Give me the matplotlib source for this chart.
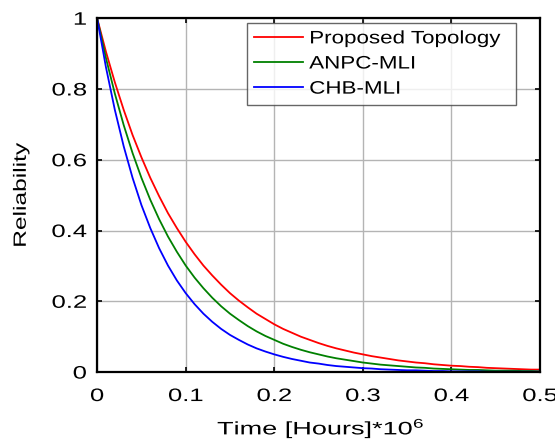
import matplotlib
matplotlib.use("Agg")
import matplotlib.pyplot as plt
import matplotlib.patheffects as pe
from matplotlib.transforms import Affine2D

plt.rcParams['font.family'] = ['Liberation Sans', 'DejaVu Sans']
plt.rcParams['mathtext.fontset'] = 'custom'
plt.rcParams['mathtext.rm'] = 'Liberation Sans'
plt.rcParams['mathtext.it'] = 'Liberation Sans'

time = [i / 100 for i in range(51)]
proposed = [1.000, 0.905, 0.819, 0.741, 0.670, 0.607, 0.549, 0.497, 0.449, 0.407,
            0.368, 0.333, 0.301, 0.273, 0.247, 0.223, 0.202, 0.183, 0.165, 0.150,
            0.135, 0.122, 0.111, 0.100, 0.091, 0.082, 0.074, 0.067, 0.061, 0.055,
            0.050, 0.045, 0.041, 0.037, 0.033, 0.030, 0.027, 0.025, 0.022, 0.020,
            0.018, 0.017, 0.015, 0.014, 0.012, 0.011, 0.010, 0.009, 0.008, 0.007,
            0.007]
anpc = [1.000, 0.887, 0.787, 0.698, 0.619, 0.549, 0.487, 0.432, 0.383, 0.340,
        0.301, 0.267, 0.237, 0.210, 0.186, 0.165, 0.147, 0.130, 0.115, 0.102,
        0.091, 0.080, 0.071, 0.063, 0.056, 0.050, 0.044, 0.039, 0.035, 0.031,
        0.027, 0.024, 0.021, 0.019, 0.017, 0.015, 0.013, 0.012, 0.010, 0.009,
        0.008, 0.007, 0.006, 0.006, 0.005, 0.004, 0.004, 0.004, 0.003, 0.003,
        0.002]
chb = [1.000, 0.861, 0.741, 0.638, 0.549, 0.472, 0.407, 0.350, 0.301, 0.259,
       0.223, 0.192, 0.165, 0.142, 0.122, 0.105, 0.091, 0.078, 0.067, 0.058,
       0.050, 0.043, 0.037, 0.032, 0.027, 0.024, 0.020, 0.017, 0.015, 0.013,
       0.011, 0.010, 0.008, 0.007, 0.006, 0.005, 0.005, 0.004, 0.003, 0.003,
       0.002, 0.002, 0.002, 0.002, 0.001, 0.001, 0.001, 0.001, 0.001, 0.001,
       0.001]
series_names = ["Proposed Topology", "ANPC-MLI", "CHB-MLI"]
xticks = [0, 0.1, 0.2, 0.3, 0.4, 0.5]
xtick_labels = ["0", "0.1", "0.2", "0.3", "0.4", "0.5"]
yticks = [0, 0.2, 0.4, 0.6, 0.8, 1.0]
ytick_labels = ["0", "0.2", "0.4", "0.6", "0.8", "1"]


class Stretch(pe.AbstractPathEffect):
    """Widen text glyphs along the text direction (MATLAB-like wide font)."""
    def __init__(self, sx, anchor='center'):
        super().__init__()
        self.sx = sx
        self.anchor = anchor

    def draw_path(self, renderer, gc, tpath, affine, rgbFace=None):
        ext = tpath.get_extents()
        if self.anchor == 'center':
            cx = (ext.x0 + ext.x1) / 2
        elif self.anchor == 'right':
            cx = ext.x1
        else:
            cx = 0
        t = Affine2D().translate(-cx, 0).scale(self.sx, 1).translate(cx, 0) + affine
        renderer.draw_path(gc, tpath, t, rgbFace)


fig = plt.figure(figsize=(5.55, 4.44), dpi=100)
ax = fig.add_axes([0.175, 0.162, 0.798, 0.797])

ax.plot(time, proposed, color='#ff0000', lw=1.3, label=series_names[0])
ax.plot(time, anpc, color='#008000', lw=1.3, label=series_names[1])
ax.plot(time, chb, color='#0000ff', lw=1.3, label=series_names[2])

ax.set_xlim(0, 0.5)
ax.set_ylim(0, 1)
ax.set_xticks(xticks)
ax.set_xticklabels(xtick_labels)
ax.set_yticks(yticks)
ax.set_yticklabels(ytick_labels)
ax.grid(True, color='#b4b4b4', lw=1.0)
ax.set_axisbelow(True)
ax.tick_params(direction='in', top=True, right=True, length=3.8, width=1.2,
               labelsize=13)
ax.tick_params(axis='x', pad=11.5)
ax.tick_params(axis='y', pad=7.5)
for s in ax.spines.values():
    s.set_linewidth(1.6)
    s.set_color('black')

for lab in ax.get_xticklabels():
    lab.set_path_effects([Stretch(1.42, 'center')])
for lab in ax.get_yticklabels():
    lab.set_path_effects([Stretch(1.42, 'right')])

xl = ax.set_xlabel("Time [Hours]*10$^6$", fontsize=13)
xl.set_path_effects([Stretch(1.5, 'center')])
ax.xaxis.set_label_coords(0.505, -0.125)
yl = ax.set_ylabel("Reliability", fontsize=12.8)
yl.set_path_effects([Stretch(1.38, 'center')])
ax.yaxis.set_label_coords(-0.152, 0.5)

leg = ax.legend(loc='upper left', bbox_to_anchor=(0.339, 0.754, 0.607, 0.232),
                mode='expand', fontsize=13, frameon=True, fancybox=False,
                handlelength=2.7, handletextpad=0.33, borderpad=0.4,
                labelspacing=0.45, borderaxespad=0)
leg.get_frame().set_edgecolor('#404040')
leg.get_frame().set_linewidth(1.0)
for t in leg.get_texts():
    t.set_path_effects([Stretch(1.24, 'left')])

fig.savefig("out.png", dpi=100)
